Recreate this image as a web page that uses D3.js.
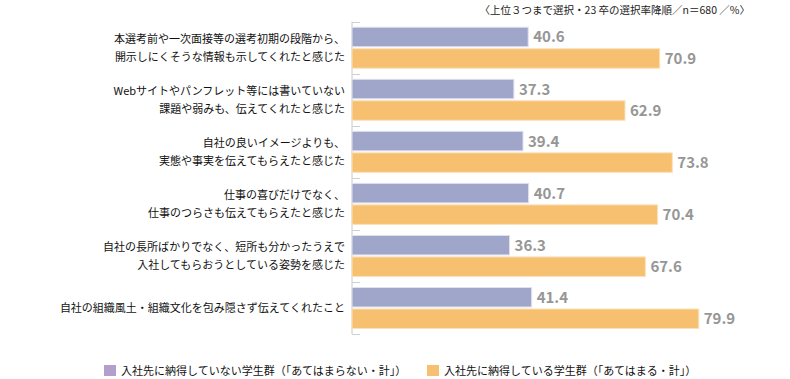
<!DOCTYPE html>
<html>
<head>
<meta charset="utf-8">
<script src="https://cdn.jsdelivr.net/npm/d3@7"></script>
<style>
body { margin: 0; background: #fff; }
text { font-family: "Noto Sans CJK JP", "Noto Sans", sans-serif; }
</style>
</head>
<body>
<div id="chart"></div>
<script>
// categories, two lines each
var categories = [
    ["本選考前や一次面接等の選考初期の段階から、", "開示しにくそうな情報も示してくれたと感じた"],
    ["Webサイトやパンフレット等には書いていない", "課題や弱みも、伝えてくれたと感じた"],
    ["自社の良いイメージよりも、", "実態や事実を伝えてもらえたと感じた"],
    ["仕事の喜びだけでなく、", "仕事のつらさも伝えてもらえたと感じた"],
    ["自社の長所ばかりでなく、短所も分かったうえで", "入社してもらおうとしている姿勢を感じた"],
    ["自社の組織風土・組織文化を包み隠さず伝えてくれたこと"]
];
var notConvinced = [40.6, 37.3, 39.4, 40.7, 36.3, 41.4];
var convinced = [70.9, 62.9, 73.8, 70.4, 67.6, 79.9];
var seriesNames = ["入社先に納得していない学生群（「あてはまらない・計」）", "入社先に納得している学生群（「あてはまる・計」）"];
var note = "〈上位３つまで選択・23 卒の選択率降順／n＝680 ／%〉";

var width = 790, height = 379;
var svg = d3.select("#chart").append("svg")
    .attr("width", width)
    .attr("height", height);

var left = 352;

var y = d3.scaleBand()
    .domain(d3.range(categories.length))
    .range([21.7, 334]);

var x = d3.scaleLinear()
    .domain([0, 100])
    .range([left, left + 434]);

// note top right
svg.append("text")
    .attr("x", 750)
    .attr("y", 14)
    .attr("text-anchor", "end")
    .attr("font-size", 10.5)
    .attr("fill", "#222")
    .text(note);

// axis line + ticks
svg.append("line")
    .attr("x1", left).attr("x2", left)
    .attr("y1", y.range()[0]).attr("y2", y.range()[1])
    .attr("stroke", "#c8c8c8");
var tickPos = y.domain().map(function(i) { return y(i); }).concat([y.range()[1]]);
svg.selectAll(".tk")
    .data(tickPos)
    .enter()
    .append("line")
    .attr("x1", left).attr("x2", left + 8)
    .attr("y1", function(d) { return Math.round(d) + 0.5; })
    .attr("y2", function(d) { return Math.round(d) + 0.5; })
    .attr("stroke", "#d0d0d0");

var barH = 19.5, gap = 2;
var offTop = (y.bandwidth() - 2 * barH - gap) / 2;

var colors = ["#9fa6c9", "#f6c070"];
var strokes = ["#dfe2ee", "#fbe1b8"];

[notConvinced, convinced].forEach(function(vals, s) {
    var yy = function(i) { return y(i) + offTop + s * (barH + gap); };
    svg.selectAll(".bar" + s)
        .data(vals)
        .enter()
        .append("rect")
        .attr("x", left)
        .attr("y", function(d, i) { return yy(i); })
        .attr("width", function(d) { return x(d) - left; })
        .attr("height", barH)
        .attr("fill", colors[s])
        .attr("stroke", strokes[s])
        .attr("stroke-width", 1);
    svg.selectAll(".lab" + s)
        .data(vals)
        .enter()
        .append("text")
        .attr("x", function(d) { return x(d) + 5; })
        .attr("y", function(d, i) { return yy(i) + barH / 2 + 5.5; })
        .attr("font-family", "Roboto, 'Noto Sans', sans-serif")
        .attr("font-weight", "bold")
        .attr("font-size", 15)
        .attr("fill", "#969696")
        .text(function(d) { return d.toFixed(1); });
});

// category labels
categories.forEach(function(lines, i) {
    var c = y(i) + y.bandwidth() / 2;
    var lh = 18;
    var t = svg.append("text")
        .attr("text-anchor", "end")
        .attr("font-size", 11)
        .attr("fill", "#111");
    lines.forEach(function(l, k) {
        t.append("tspan")
            .attr("x", 345)
            .attr("y", c + (k - (lines.length - 1) / 2) * lh + 4)
            .text(l);
    });
});

// legend
var legendX = [104, 427];
var legendColors = ["#b39fcb", "#f6c070"];
seriesNames.forEach(function(n, s) {
    svg.append("rect")
        .attr("x", legendX[s]).attr("y", 365)
        .attr("width", 12).attr("height", 11)
        .attr("fill", legendColors[s]);
    svg.append("text")
        .attr("x", legendX[s] + 17)
        .attr("y", 375)
        .attr("font-size", 11)
        .attr("fill", "#111")
        .text(n);
});
</script>
</body>
</html>
